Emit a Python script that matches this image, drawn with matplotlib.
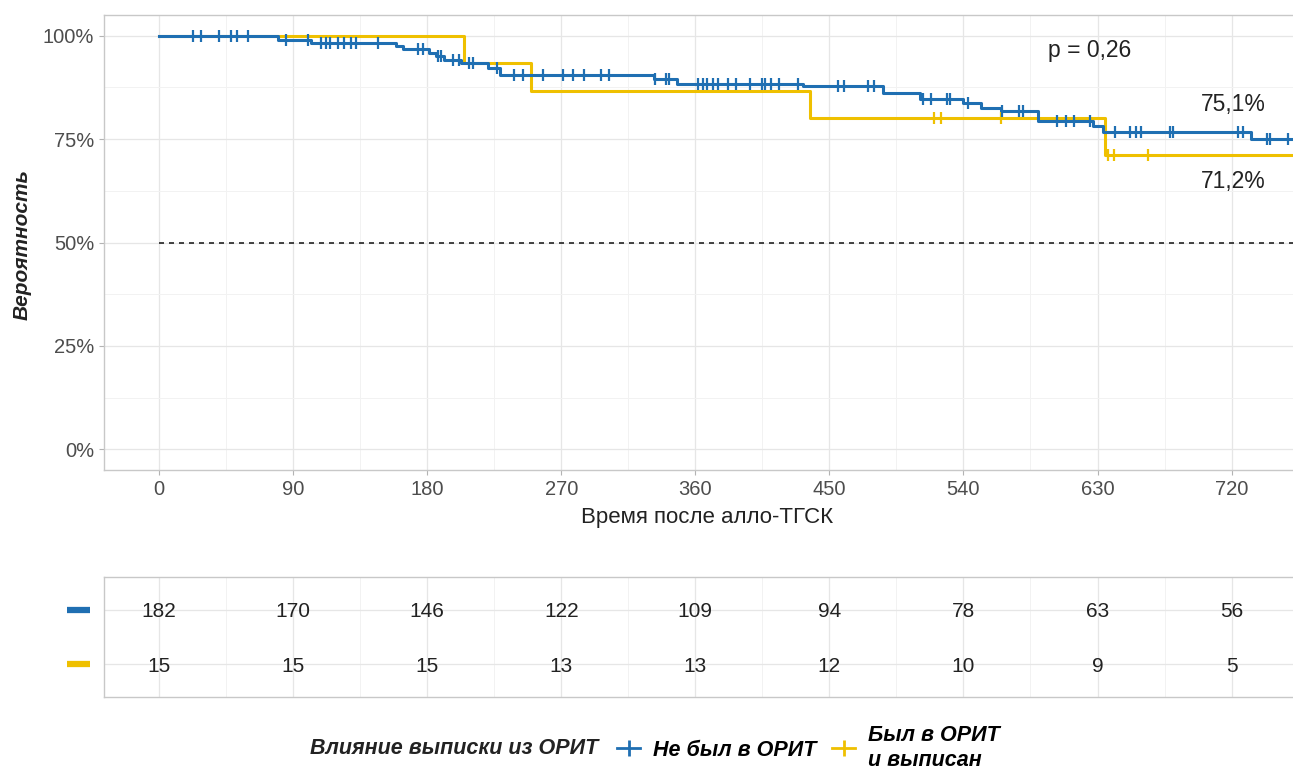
import numpy as np
import matplotlib.pyplot as plt
from matplotlib.lines import Line2D

plt.rcParams['font.family'] = ['Liberation Sans', 'DejaVu Sans']

blue_col = "#1F6FB2"
yellow_col = "#EFC000"

# Не был в ОРИТ (step curve)
blue_t = [0, 80, 102, 159, 164, 181, 186, 191, 203, 221, 229, 332, 348, 432, 486,
          511, 540, 552, 565, 590, 627, 634, 733, 775]
blue_s = [1.0, 0.989, 0.983, 0.975, 0.967, 0.958, 0.950, 0.942, 0.934, 0.922, 0.906,
          0.895, 0.884, 0.878, 0.861, 0.848, 0.837, 0.825, 0.817, 0.793, 0.781, 0.767,
          0.751, 0.751]
blue_cens = [23, 28, 40, 48, 52, 60, 85, 100, 109, 112, 115, 120, 124, 129, 132, 147,
             174, 177, 187, 189, 197, 201, 208, 211, 227, 238, 244, 258, 271, 278, 285,
             297, 302, 333, 340, 342, 362, 365, 368, 372, 375, 382, 387, 397, 405, 407,
             411, 416, 429, 456, 460, 476, 480, 513, 518, 529, 531, 543, 566, 577, 580,
             603, 609, 614, 625, 642, 652, 656, 659, 679, 681, 724, 728, 744, 746, 758]

# Был в ОРИТ и выписан
yellow_t = [0, 205, 250, 437, 635, 775]
yellow_s = [1.0, 0.933, 0.867, 0.800, 0.712, 0.712]
yellow_cens = [520, 525, 565, 637, 641, 664]

days = [0, 90, 180, 270, 360, 450, 540, 630, 720]
risk_blue = [182, 170, 146, 122, 109, 94, 78, 63, 56]
risk_yellow = [15, 15, 15, 13, 13, 12, 10, 9, 5]

W, H = 1293, 771
fig = plt.figure(figsize=(W / 100, H / 100), dpi=100)
ax = fig.add_axes([104 / W, (H - 470) / H, (1312 - 104) / W, 455 / H])

def cens_y(t, s, c):
    idx = np.searchsorted(t, c, side='right') - 1
    return np.array(s)[idx]

for t, s, c, col in [(yellow_t, yellow_s, yellow_cens, yellow_col),
                     (blue_t, blue_s, blue_cens, blue_col)]:
    ax.step(t, s, where='post', color=col, lw=2.2, zorder=3)
    ax.plot(c, cens_y(t, s, c), ls='none', marker='|', ms=9, mew=1.6, color=col, zorder=4)

ax.hlines(0.5, 0, max(blue_t), color='#222222', ls=(0, (3, 3)), lw=1.2, zorder=2)

ax.set_xlim(-37, 774)
ax.set_ylim(-0.05, 1.05)
ax.set_xticks(days)
ax.set_xticks([d + 45 for d in days], minor=True)
ax.set_yticks([0, 0.25, 0.5, 0.75, 1.0])
ax.set_yticklabels(['0%', '25%', '50%', '75%', '100%'])
ax.set_yticks([0.125, 0.375, 0.625, 0.875], minor=True)
ax.grid(which='major', color='#E6E6E6', lw=0.9)
ax.grid(which='minor', color='#F2F2F2', lw=0.7)
ax.set_axisbelow(True)
ax.tick_params(which='major', labelsize=14.5, colors='#B3B3B3', labelcolor='#4D4D4D', length=3.5)
ax.tick_params(which='minor', length=0)
for sp in ax.spines.values():
    sp.set_color('#C8C8C8')
    sp.set_linewidth(1.0)

ax.text(625, 0.965, 'p = 0,26', fontsize=16.5, ha='center', va='center', color='#222222')
ax.text(721, 0.833, '75,1%', fontsize=16.5, ha='center', va='center', color='#222222')
ax.text(721, 0.647, '71,2%', fontsize=16.5, ha='center', va='center', color='#222222')

fig.text(22 / W, 1 - 245 / H, 'Вероятность', rotation=90, ha='center', va='center',
         fontsize=15, fontweight='bold', fontstyle='italic', color='#222222')
fig.text(707 / W, 1 - 518 / H, 'Время после алло-ТГСК', ha='center', va='center',
         fontsize=16, color='#222222')

# risk table
tax = fig.add_axes([104 / W, 74 / H, (1312 - 104) / W, 120 / H])
tax.set_xlim(-37, 774)
tax.set_ylim(0.4, 2.6)
tax.set_xticks(days)
tax.set_xticks([d + 45 for d in days], minor=True)
tax.set_yticks([1, 2])
tax.grid(which='major', color='#E6E6E6', lw=0.9)
tax.grid(which='minor', axis='x', color='#F2F2F2', lw=0.7)
tax.tick_params(which='both', length=0, labelbottom=False, labelleft=False)
for sp in tax.spines.values():
    sp.set_color('#C8C8C8')
    sp.set_linewidth(1.0)
for d, nb, ny in zip(days, risk_blue, risk_yellow):
    tax.text(d, 2, str(nb), ha='center', va='center_baseline', fontsize=15, color='#222222')
    tax.text(d, 1, str(ny), ha='center', va='center_baseline', fontsize=15, color='#222222')
yt = tax.get_yaxis_transform()
tax.plot([-0.0306, -0.0116], [2, 2], transform=yt, color=blue_col, lw=4.5,
         solid_capstyle='butt', clip_on=False)
tax.plot([-0.0306, -0.0116], [1, 1], transform=yt, color=yellow_col, lw=4.5,
         solid_capstyle='butt', clip_on=False)

# legend
fig.text(598 / W, 1 - 748 / H, 'Влияние выписки из ОРИТ', ha='right', va='center',
         fontsize=15.5, fontweight='bold', fontstyle='italic', color='#222222')
handles = [Line2D([0], [0], color=blue_col, lw=2, marker='|', ms=11, mew=2),
           Line2D([0], [0], color=yellow_col, lw=2, marker='|', ms=11, mew=2)]
fig.legend(handles, ['Не был в ОРИТ', 'Был в ОРИТ\nи выписан'], loc='center left',
           bbox_to_anchor=(606 / W, 1 - 748 / H), ncol=2, frameon=False,
           prop=dict(size=15.5, weight='bold', style='italic'), handlelength=1.1,
           handletextpad=0.6, columnspacing=0.7, borderpad=0, labelspacing=0)

fig.savefig('out.png', dpi=100)
